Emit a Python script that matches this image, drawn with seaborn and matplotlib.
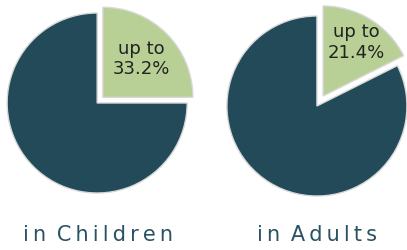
import matplotlib
matplotlib.use("Agg")
import matplotlib.pyplot as plt
import seaborn as sns

# slice shares as drawn (highlighted slice first), and the printed labels
groups = ["in Children", "in Adults"]
highlight_share = [25.0, 17.6]
highlight_label = ["33.2%", "21.4%"]

dark_teal = "#224a59"
sage = "#b8cf95"

sns.set_theme(style="white")
plt.rcParams["font.family"] = ["DejaVu Sans"]

fig = plt.figure(figsize=(4.07, 2.5), dpi=100)
fig.patch.set_facecolor("white")

# axes boxes (fraction of figure) holding each pie, pie radius ~90px
boxes = [[-0.007, 0.188, 200 / 407, 0.8], [0.533, 0.176, 200 / 407, 0.8]]
explodes = [0.09, 0.13]
pct_dist = [0.6, 0.7]
label_x = [98 / 407, 317 / 407]


def spaced(s):
    # fake letter spacing with thin spaces inside words
    return "\u2009 ".join("\u2009".join(w) for w in s.split(" "))


for i, grp in enumerate(groups):
    ax = fig.add_axes(boxes[i])
    share = highlight_share[i]
    lab = highlight_label[i]
    wedges, texts, autotexts = ax.pie(
        [share, 100 - share],
        colors=[sage, dark_teal],
        startangle=90,
        counterclock=False,
        explode=[explodes[i], 0],
        autopct=lambda p, lab=lab: f"up to\n{lab}",
        pctdistance=pct_dist[i],
        textprops=dict(color="#222222", fontsize=13, linespacing=1.2),
        wedgeprops=dict(edgecolor="#d8d8d8", linewidth=1),
    )
    # only the highlighted slice carries a label
    autotexts[1].set_visible(False)
    ax.set_xlim(-1.111, 1.111)
    ax.set_ylim(-1.111, 1.111)
    ax.set_aspect("equal")
    ax.axis("off")

    fig.text(label_x[i], 15 / 250, spaced(grp), ha="center", va="center",
             fontsize=15, color="#2a5263")

fig.savefig("out.png", dpi=100, facecolor="white")
